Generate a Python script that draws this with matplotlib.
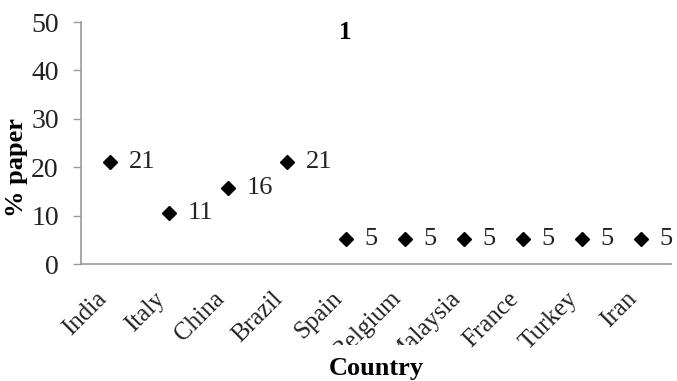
import numpy as np
import matplotlib
matplotlib.use('Agg')
import matplotlib.pyplot as plt

# data (share of papers per country, n = 19)
countries = ['India', 'Italy', 'China', 'Brazil', 'Spain', 'Belgium',
             'Malaysia', 'France', 'Turkey', 'Iran']
pct_paper = [21.05, 10.53, 15.79, 21.05, 5.26, 5.26, 5.26, 5.26, 5.26, 5.26]
labels = ['21', '11', '16', '21', '5', '5', '5', '5', '5', '5']

plt.rcParams['font.family'] = ['Liberation Serif', 'DejaVu Serif']

fig = plt.figure(figsize=(6.77, 3.81), dpi=100)
ax = fig.add_axes([0.1196, 0.307, 0.8715, 0.635])

x = np.arange(len(countries))
ax.plot(x, pct_paper, linestyle='none', marker='D', markersize=7,
        color='black')

for xi, yi, lab in zip(x, pct_paper, labels):
    ax.annotate(lab, (xi, yi), xytext=(13, 0), textcoords='offset points',
                ha='left', va='center', fontsize=19, color='#222222')

ax.set_xlim(-0.5, len(countries) - 0.5)
ax.set_ylim(0, 50)
ax.set_yticks([0, 10, 20, 30, 40, 50])
ax.set_xticks(x)
ax.set_xticklabels(countries, rotation=45, ha='right',
                   fontsize=18, color='#222222')
ax.tick_params(axis='y', labelsize=20, labelcolor='#222222', length=6,
               width=1, color='#999999', pad=10)
ax.tick_params(axis='x', length=0, pad=17)

for s in ['top', 'right']:
    ax.spines[s].set_visible(False)
for s in ['left', 'bottom']:
    ax.spines[s].set_color('#999999')
    ax.spines[s].set_linewidth(1.2)

ax.set_ylabel('% paper', fontsize=19, fontweight='bold')
ax.yaxis.set_label_coords(-0.09, 0.40)
ax.set_xlabel('Country', fontsize=19, fontweight='bold',
              bbox=dict(facecolor='white', edgecolor='none', pad=9))
ax.xaxis.set_label_coords(0.5, -0.385)

ax.text(0.448, 0.955, '1', transform=ax.transAxes, ha='center', va='center',
        fontsize=18, fontweight='bold')

fig.savefig('out.png', dpi=100)
